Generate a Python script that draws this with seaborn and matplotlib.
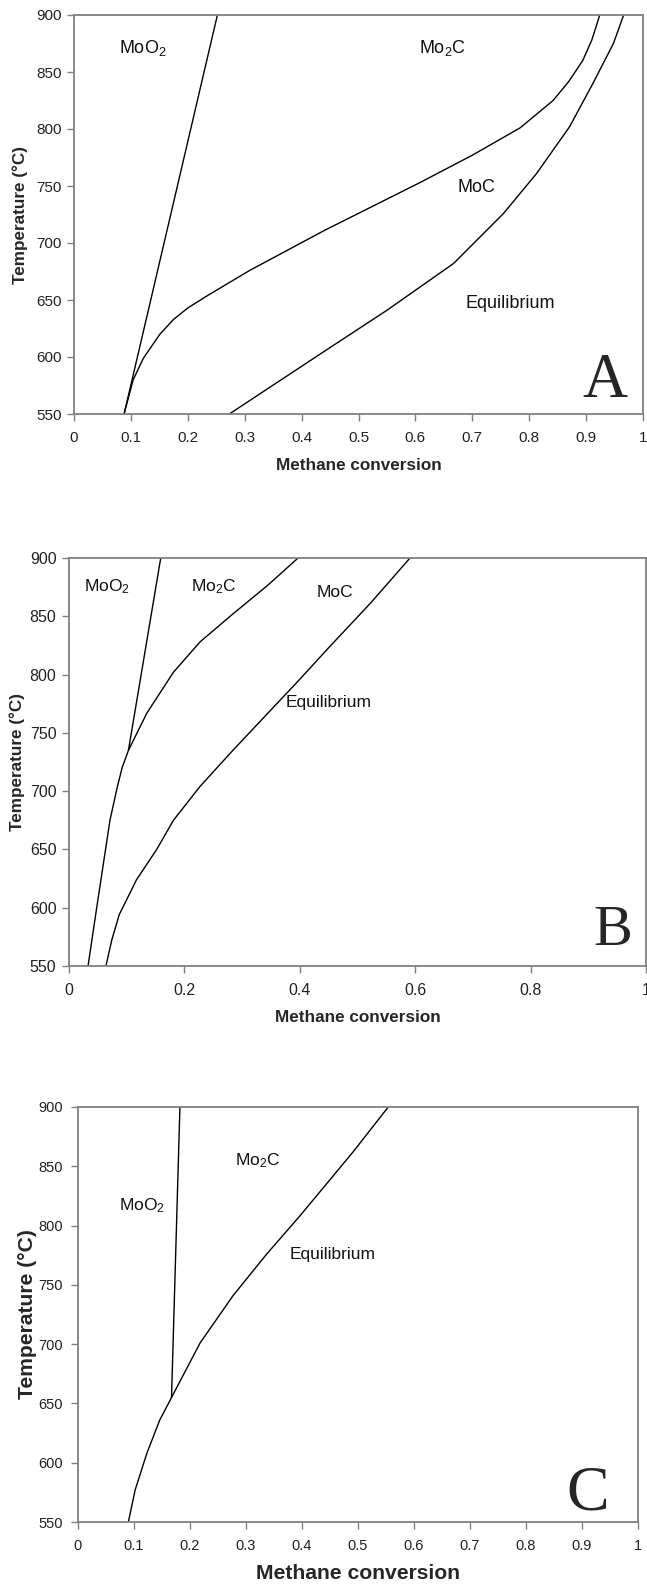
import numpy as np
import pandas as pd
import matplotlib
matplotlib.use("Agg")
import matplotlib.pyplot as plt
import seaborn as sns

# ---- panel A ----
a_moo2_x = [0.088, 0.252]
a_moo2_t = [550, 900]
a_moc_x = [0.088, 0.096, 0.104, 0.122, 0.151, 0.175, 0.200, 0.235, 0.309, 0.44, 0.608, 0.70, 0.784, 0.842, 0.870, 0.894, 0.910, 0.924]
a_moc_t = [550, 565, 580, 599, 620, 633, 643, 654, 676, 711, 753, 777, 801, 825, 842, 860, 878, 900]
a_eq_x = [0.273, 0.44, 0.55, 0.667, 0.755, 0.813, 0.871, 0.912, 0.948, 0.966]
a_eq_t = [550, 605, 641, 682, 726, 761, 802, 840, 875, 900]

# ---- panel B ----
b_moo2_x = [0.103, 0.159]
b_moo2_t = [735, 900]
b_moc_x = [0.033, 0.048, 0.071, 0.083, 0.092, 0.103, 0.135, 0.181, 0.227, 0.284, 0.343, 0.397]
b_moc_t = [550, 600, 675, 702, 720, 735, 767, 802, 828, 852, 876, 900]
b_eq_x = [0.064, 0.074, 0.087, 0.117, 0.152, 0.181, 0.227, 0.284, 0.343, 0.40, 0.45, 0.522, 0.591]
b_eq_t = [550, 572, 594, 624, 650, 675, 704, 735, 766, 796, 823, 861, 900]

# ---- panel C ----
c_moo2_x = [0.167, 0.182]
c_moo2_t = [655, 900]
c_eq_x = [0.090, 0.102, 0.123, 0.146, 0.167, 0.218, 0.277, 0.337, 0.396, 0.44, 0.491, 0.554]
c_eq_t = [550, 577, 608, 636, 655, 701, 741, 776, 808, 833, 862, 900]

# region labels (text, x, T)
a_labels = [("MoO$_2$", 0.121, 871), ("Mo$_2$C", 0.648, 871), ("MoC", 0.708, 749), ("Equilibrium", 0.766, 647)]
b_labels = [("MoO$_2$", 0.066, 875), ("Mo$_2$C", 0.25, 875), ("MoC", 0.461, 870), ("Equilibrium", 0.45, 776)]
c_labels = [("MoO$_2$", 0.114, 817), ("Mo$_2$C", 0.32, 855), ("Equilibrium", 0.455, 776)]

y_ticks = [550, 600, 650, 700, 750, 800, 850, 900]
x_ticks_a = [0, 0.1, 0.2, 0.3, 0.4, 0.5, 0.6, 0.7, 0.8, 0.9, 1]
x_ticks_b = [0, 0.2, 0.4, 0.6, 0.8, 1]

sns.set_style("ticks")
plt.rcParams['font.family'] = ['Liberation Sans', 'DejaVu Sans']
plt.rcParams['mathtext.fontset'] = 'custom'
plt.rcParams['mathtext.rm'] = 'Liberation Sans'
plt.rcParams['mathtext.it'] = 'Liberation Sans:italic'
plt.rcParams['mathtext.bf'] = 'Liberation Sans:bold'

W, H = 647, 1584
fig = plt.figure(figsize=(W / 100, H / 100), dpi=100)


def make_axes(l, r, t, b):
    return fig.add_axes([l / W, (H - b) / H, (r - l) / W, (b - t) / H])


def style(ax, xticks, tick_fs, lab_fs, xlab_y, ylab_x, ypad):
    ax.set_xlim(0, 1)
    ax.set_ylim(550, 900)
    ax.set_xticks(xticks)
    ax.set_xticklabels([f"{v:g}" for v in xticks])
    ax.set_yticks(y_ticks)
    for s in ax.spines.values():
        s.set_color("#808080")
        s.set_linewidth(1.3)
    ax.tick_params(axis="both", direction="out", length=5, width=1, color="#808080",
                   labelsize=tick_fs, labelcolor="#222222")
    ax.tick_params(axis="x", pad=7)
    ax.tick_params(axis="y", pad=ypad)
    ax.set_xlabel("Methane conversion", fontsize=lab_fs, fontweight="bold")
    ax.set_ylabel("Temperature (°C)", fontsize=lab_fs, fontweight="bold")
    ax.xaxis.set_label_coords(0.5, xlab_y)
    ax.xaxis.label.set_va("center")
    ax.yaxis.set_label_coords(ylab_x, 0.5)
    ax.yaxis.label.set_va("center")


def draw(ax, x, t):
    df = pd.DataFrame({"x": x, "T": t})
    sns.lineplot(data=df, x="x", y="T", sort=False, estimator=None,
                 color="black", lw=1.0, ax=ax)


axA = make_axes(74, 643, 15, 414)
draw(axA, a_moo2_x, a_moo2_t)
draw(axA, a_moc_x, a_moc_t)
draw(axA, a_eq_x, a_eq_t)
for txt, x, t in a_labels:
    axA.text(x, t, txt, fontsize=13, ha="center", va="center", color="#111111")
axA.text(0.933, 0.043, "A", transform=axA.transAxes, fontsize=45,
         family="Liberation Serif", ha="center", va="baseline")
style(axA, x_ticks_a, 11, 12.3, -0.13, -0.095, 4)

axB = make_axes(69, 646, 558, 966)
draw(axB, b_moo2_x, b_moo2_t)
draw(axB, b_moc_x, b_moc_t)
draw(axB, b_eq_x, b_eq_t)
for txt, x, t in b_labels:
    axB.text(x, t, txt, fontsize=12.5, ha="center", va="center", color="#111111")
axB.text(0.943, 0.051, "B", transform=axB.transAxes, fontsize=42,
         family="Liberation Serif", ha="center", va="baseline")
style(axB, x_ticks_b, 11.5, 12.3, -0.127, -0.090, 4)

axC = make_axes(78, 638, 1107, 1522)
draw(axC, c_moo2_x, c_moo2_t)
draw(axC, c_eq_x, c_eq_t)
for txt, x, t in c_labels:
    axC.text(x, t, txt, fontsize=12.5, ha="center", va="center", color="#111111")
axC.text(0.91, 0.031, "C", transform=axC.transAxes, fontsize=46,
         family="Liberation Serif", ha="center", va="baseline")
style(axC, x_ticks_a, 10.5, 15.2, -0.125, -0.091, 6)

fig.savefig("out.png", dpi=100, facecolor="white")
